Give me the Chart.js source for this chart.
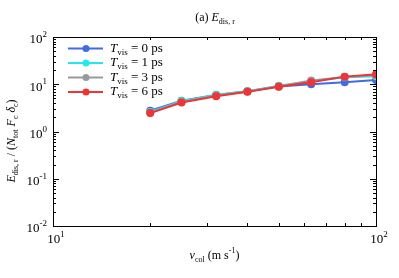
<!DOCTYPE html>
<html>
<head>
<meta charset="utf-8">
<script src="https://cdn.jsdelivr.net/npm/chart.js@4.4.1/dist/chart.umd.min.js"></script>
<style>
  html, body { margin: 0; padding: 0; background: #fff; }
  #wrap { width: 399px; height: 278px; }
</style>
</head>
<body>
<div id="wrap"><canvas id="chart" width="399" height="278"></canvas></div>
<script>
// collision velocity (m/s)
const vCol = [20, 25, 32, 40, 50, 63, 80, 100];
// E_dis,r / (N_tot F_c delta_c) for each T_vis
const tVis0 = [2.75, 4.5, 5.9, 7.1, 9.0, 10.0, 11.0, 12.3];
const tVis1 = [2.6, 4.4, 6.0, 7.1, 9.3, 11.5, 14.0, 14.8];
const tVis3 = [2.5, 4.2, 5.8, 7.0, 9.1, 12.0, 14.3, 15.5];
const tVis6 = [2.45, 4.1, 5.6, 6.9, 8.9, 11.0, 14.5, 16.2];
const seriesNames = ["0", "1", "3", "6"];
const seriesColors = ["#3e6be6", "#22e8e8", "#9a9a9a", "#ee3535"];
const xTicks = [10, 100];
const yTicks = [0.01, 0.1, 1, 10, 100];

const SERIF = '"Liberation Serif", "Times New Roman", serif';

function pts(ys) {
  return ys.map((y, i) => ({ x: vCol[i], y: y }));
}

// draw a run of text pieces: [text, style] where style is "", "i", "sub", "sup"
function drawRich(ctx, parts, x, y, size, align) {
  const small = Math.round(size * 0.7);
  const pieces = parts.map(p => {
    const st = p[1] || "";
    let font = size + "px " + SERIF;
    let dy = 0;
    if (st === "i") font = "italic " + size + "px " + SERIF;
    if (st === "sub") { font = small + "px " + SERIF; dy = size * 0.3; }
    if (st === "sup") { font = small + "px " + SERIF; dy = -size * 0.4; }
    ctx.font = font;
    return { t: p[0], font: font, dy: dy, w: ctx.measureText(p[0]).width };
  });
  const total = pieces.reduce((s, p) => s + p.w, 0);
  let cx = x;
  if (align === "center") cx = x - total / 2;
  if (align === "right") cx = x - total;
  ctx.textBaseline = "middle";
  ctx.textAlign = "left";
  pieces.forEach(p => {
    ctx.font = p.font;
    ctx.fillText(p.t, cx, y + p.dy);
    cx += p.w;
  });
}

function expOf(v) {
  return String(Math.round(Math.log10(v))).replace("-", "-");
}

const framePlugin = {
  id: "frame",
  afterDatasetsDraw(chart) {
    const ctx = chart.ctx;
    const a = chart.chartArea;
    const xs = chart.scales.x;
    const ys = chart.scales.y;
    ctx.save();
    ctx.strokeStyle = "#000";
    ctx.lineWidth = 1;
    ctx.strokeRect(a.left + 0.5, a.top + 0.5, a.right - a.left, a.bottom - a.top);

    ctx.beginPath();
    // y ticks, left and right
    for (let k = -2; k < 2; k++) {
      for (let m = 1; m <= 9; m++) {
        const v = m * Math.pow(10, k);
        const py = Math.round(ys.getPixelForValue(v)) + 0.5;
        const len = m === 1 ? 6 : 3;
        ctx.moveTo(a.left, py); ctx.lineTo(a.left + len, py);
        ctx.moveTo(a.right, py); ctx.lineTo(a.right - len, py);
      }
    }
    // x ticks, bottom and top
    for (let m = 1; m <= 10; m++) {
      const v = m * 10;
      const px = Math.round(xs.getPixelForValue(v)) + 0.5;
      const len = (m === 1 || m === 10) ? 6 : 3;
      ctx.moveTo(px, a.bottom); ctx.lineTo(px, a.bottom - len);
      ctx.moveTo(px, a.top); ctx.lineTo(px, a.top + len);
    }
    ctx.stroke();

    ctx.fillStyle = "#000";
    yTicks.forEach(v => {
      const py = ys.getPixelForValue(v);
      drawRich(ctx, [["10", ""], [expOf(v), "sup"]], a.left - 6, py + 3, 13, "right");
    });
    xTicks.forEach(v => {
      const px = xs.getPixelForValue(v);
      drawRich(ctx, [["10", ""], [expOf(v), "sup"]], px + 3, a.bottom + 14, 13, "center");
    });

    // axis titles
    drawRich(ctx, [["v", "i"], ["col", "sub"], [" (m s", ""], ["-1", "sup"], [")", ""]],
      (a.left + a.right) / 2, a.bottom + 30, 12, "center");
    ctx.save();
    ctx.translate(12, 141);
    ctx.rotate(-Math.PI / 2);
    drawRich(ctx, [["E", "i"], ["dis, r", "sub"], [" / (", ""], ["N", "i"], ["tot", "sub"],
      [" ", ""], ["F", "i"], ["c", "sub"], [" δ", "i"], ["c", "sub"], [")", ""]],
      0, 0, 12, "center");
    ctx.restore();

    // title
    drawRich(ctx, [["(a) ", ""], ["E", "i"], ["dis, r", "sub"]], 215, 18, 12, "center");

    // legend
    seriesNames.forEach((n, i) => {
      const ly = 48.5 + i * 14.5;
      ctx.strokeStyle = seriesColors[i];
      ctx.lineWidth = 2;
      ctx.beginPath();
      ctx.moveTo(68, ly); ctx.lineTo(103, ly);
      ctx.stroke();
      ctx.fillStyle = seriesColors[i];
      ctx.beginPath();
      ctx.arc(86, ly, 3.5, 0, Math.PI * 2);
      ctx.fill();
      ctx.fillStyle = "#000";
      drawRich(ctx, [["T", "i"], ["vis", "sub"], [" = " + n + " ps", ""]], 110, ly, 13, "left");
    });
    ctx.restore();
  }
};

const allSeries = [tVis0, tVis1, tVis3, tVis6];

new Chart(document.getElementById("chart"), {
  type: "line",
  data: {
    datasets: allSeries.map((s, i) => ({
      label: "T_vis = " + seriesNames[i] + " ps",
      data: pts(s),
      borderColor: seriesColors[i],
      backgroundColor: seriesColors[i],
      borderWidth: 2,
      pointRadius: 4,
      pointBorderWidth: 0,
      tension: 0,
      order: 4 - i
    }))
  },
  options: {
    responsive: false,
    animation: false,
    layout: { padding: { left: 53, top: 37, right: 23, bottom: 52 } },
    plugins: { legend: { display: false }, tooltip: { enabled: false } },
    scales: {
      x: { type: "logarithmic", min: 10, max: 100, display: false },
      y: { type: "logarithmic", min: 0.01, max: 100, display: false }
    }
  },
  plugins: [framePlugin]
});
</script>
</body>
</html>
